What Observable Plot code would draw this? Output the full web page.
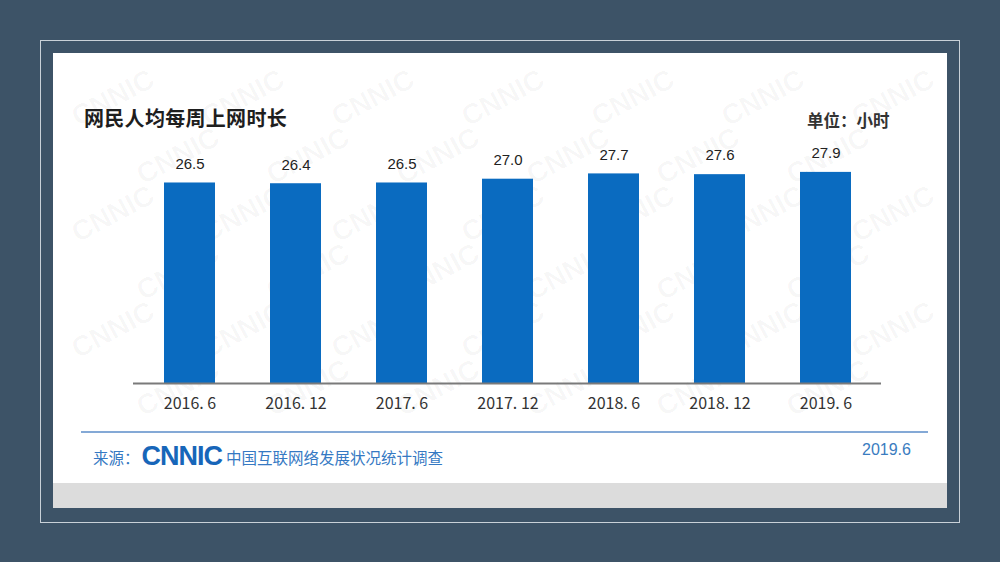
<!DOCTYPE html>
<html>
<head>
<meta charset="utf-8">
<script src="https://cdn.jsdelivr.net/npm/d3@7"></script>
<script src="https://cdn.jsdelivr.net/npm/@observablehq/plot@0.6"></script>
<style>
  html, body { margin: 0; padding: 0; }
  body { width: 1000px; height: 562px; background: #3d5367; position: relative; overflow: hidden; font-family: "Noto Sans CJK SC", "Noto Sans", sans-serif; }
  #frame { position: absolute; left: 40px; top: 40px; width: 920px; height: 483px; border: 1px solid #c9d1d8; box-sizing: border-box; }
  #panel { position: absolute; left: 53px; top: 53px; width: 894px; height: 455px; background: #ffffff; overflow: hidden; }
  #grayband { position: absolute; left: 0; top: 430px; width: 894px; height: 25px; background: #dcdcdc; }
  #wm { position: absolute; left: 0; top: 0; width: 894px; height: 430px; overflow: hidden; }
  .wmk { position: absolute; font-family: "Liberation Sans", sans-serif; font-weight: bold; font-size: 28px; line-height: 30px; width: 100px; height: 30px; text-align: center; color: rgba(0,0,0,0.035); transform: rotate(-28deg); white-space: nowrap; }
  #chart { position: absolute; left: 0; top: 0; }
  .title { position: absolute; left: 31px; top: 50px; font-size: 20px; font-weight: bold; color: #1e1e1e; letter-spacing: 0.3px; }
  .unit { position: absolute; left: 754px; top: 55px; font-size: 16.5px; font-weight: bold; color: #333; }
  #footline { position: absolute; left: 28px; top: 378px; width: 847px; height: 2px; background: #84a9d6; }
  .src { position: absolute; left: 40px; top: 388px; font-size: 15.5px; color: #3579c3; white-space: nowrap; display: flex; align-items: center; }
  .logo { font-family: "Liberation Sans", sans-serif; font-weight: bold; font-size: 27px; color: #1766b9; letter-spacing: -1px; margin: 0 4px 0 2px; }
  .date { position: absolute; left: 809px; top: 388px; font-size: 16px; color: #3a7cc0; font-family: "Liberation Sans", sans-serif; }
</style>
</head>
<body>
<div id="frame"></div>
<div id="panel">
  <div id="wm"></div>
  <div id="chart"></div>
  <div class="title">网民人均每周上网时长</div>
  <div class="unit">单位：小时</div>
  <div id="footline"></div>
  <div class="src">来源：<span class="logo">CNNIC</span>中国互联网络发展状况统计调查</div>
  <div class="date">2019.6</div>
  <div id="grayband"></div>
</div>
<script>
// Data
const periods = ["2016. 6", "2016. 12", "2017. 6", "2017. 12", "2018. 6", "2018. 12", "2019. 6"];
const hours = [26.5, 26.4, 26.5, 27.0, 27.7, 27.6, 27.9];

const data = periods.map((p, i) => ({period: p, value: hours[i]}));

// Decorative watermark pattern, kept fully inside the panel
const wm = document.getElementById("wm");
for (let r = 0; r < 9; r++) {
  for (let c = 0; c < 9; c++) {
    const cx = c * 130 + (r % 2) * 65 + 60;
    const cy = r * 58 + 45;
    if (cx - 52 < 0 || cx + 52 > 894 || cy - 38 < 0 || cy + 38 > 430) continue;
    const d = document.createElement("div");
    d.className = "wmk";
    d.textContent = "CNNIC";
    d.style.left = (cx - 50) + "px";
    d.style.top = (cy - 15) + "px";
    wm.appendChild(d);
  }
}

const chart = Plot.plot({
  width: 894,
  height: 430,
  marginLeft: 80,
  marginRight: 66,
  marginTop: 103,
  marginBottom: 100,
  style: {background: "transparent", fontFamily: "'Noto Sans CJK SC', sans-serif", fontSize: "14px", color: "#333"},
  x: {domain: periods, paddingInner: 0.52, paddingOuter: 0.26, label: null},
  y: {domain: [0, 30], axis: null},
  marks: [
    Plot.barY(data, {x: "period", y: "value", fill: "#0a6bc0"}),
    Plot.ruleY([0], {stroke: "#7a7a7a", strokeWidth: 2}),
    Plot.axisX({tickSize: 0, tickPadding: 14, fontSize: 16, fill: "#333", label: null}),
    Plot.text(data, {x: "period", y: "value", text: d => d.value.toFixed(1), dy: -19, fontSize: 15, fill: "#222", fontFamily: "'Liberation Sans', sans-serif"})
  ]
});
document.getElementById("chart").appendChild(chart);
</script>
</body>
</html>
